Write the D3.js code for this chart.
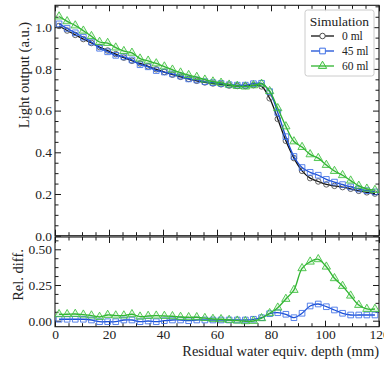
<!DOCTYPE html>
<html>
<head>
<meta charset="utf-8">
<script src="https://cdn.jsdelivr.net/npm/d3@7"></script>
<style>
  html, body { margin: 0; padding: 0; background: #fff; }
  svg { display: block; font-family: "Liberation Serif", "DejaVu Serif", serif; }
</style>
</head>
<body>
<svg id="chart" width="384" height="368"></svg>
<script>
// Sample positions along the depth axis (mm)
const depth = [1.5, 4.5, 7.5, 10.5, 13.5, 16.5, 19.5, 22.5, 25.5, 28.5,
  31.5, 34.5, 37.5, 40.5, 43.5, 46.5, 49.5, 52.5, 55.5, 58.5,
  61.5, 64.5, 67.5, 70.5, 73.5, 76.5, 79.5, 82.5, 85.5, 88.5,
  91.5, 94.5, 97.5, 100.5, 103.5, 106.5, 109.5, 112.5, 115.5, 118.5];

// Light output (a.u.) for each simulated residual water volume
const light0 = [1.006, 0.984, 0.963, 0.943, 0.924, 0.905, 0.888, 0.871, 0.854, 0.839,
  0.826, 0.812, 0.798, 0.785, 0.772, 0.762, 0.752, 0.743, 0.735, 0.730,
  0.726, 0.720, 0.718, 0.718, 0.722, 0.716, 0.659, 0.560, 0.455, 0.372,
  0.311, 0.276, 0.260, 0.246, 0.239, 0.233, 0.225, 0.215, 0.208, 0.202];
const light45 = [1.016, 0.994, 0.973, 0.952, 0.929, 0.899, 0.882, 0.865, 0.858, 0.843,
  0.820, 0.810, 0.792, 0.785, 0.776, 0.766, 0.752, 0.747, 0.739, 0.734,
  0.730, 0.724, 0.722, 0.722, 0.729, 0.731, 0.691, 0.591, 0.475, 0.380,
  0.327, 0.304, 0.290, 0.270, 0.257, 0.245, 0.234, 0.224, 0.216, 0.210];
const light60 = [1.051, 1.028, 1.008, 0.983, 0.957, 0.929, 0.924, 0.902, 0.885, 0.877,
  0.849, 0.839, 0.826, 0.811, 0.796, 0.782, 0.770, 0.761, 0.748, 0.739,
  0.733, 0.724, 0.718, 0.715, 0.721, 0.728, 0.693, 0.611, 0.524, 0.452,
  0.425, 0.390, 0.372, 0.339, 0.310, 0.290, 0.264, 0.239, 0.225, 0.219];

// Relative difference with respect to the 0 ml simulation
const rel45 = [0.010, 0.010, 0.010, 0.010, 0.005, -0.007, -0.007, -0.007, 0.005, 0.005,
  -0.007, -0.002, -0.007, 0.000, 0.005, 0.005, 0.000, 0.005, 0.005, 0.005,
  0.005, 0.005, 0.005, 0.005, 0.010, 0.021, 0.049, 0.056, 0.045, 0.021,
  0.052, 0.103, 0.117, 0.098, 0.075, 0.052, 0.040, 0.040, 0.040, 0.040];
const rel60 = [0.045, 0.045, 0.047, 0.042, 0.036, 0.026, 0.040, 0.036, 0.036, 0.045,
  0.028, 0.033, 0.035, 0.033, 0.031, 0.026, 0.024, 0.024, 0.018, 0.012,
  0.010, 0.005, 0.000, -0.004, -0.002, 0.017, 0.052, 0.091, 0.152, 0.215,
  0.367, 0.413, 0.430, 0.378, 0.297, 0.243, 0.175, 0.110, 0.082, 0.082];

// Axis ticks
const xTicks = [0, 20, 40, 60, 80, 100, 120];
const yTopTicks = [0.0, 0.2, 0.4, 0.6, 0.8, 1.0];
const yBotTicks = [0.00, 0.25, 0.50];
const legendLabels = ["0 ml", "45 ml", "60 ml"];

const svg = d3.select("#chart");

const x = d3.scaleLinear().domain([0, 120]).range([55, 379]);
const yTop = d3.scaleLinear().domain([0, 1.105]).range([235.7, 5.3]);
const yBot = d3.scaleLinear().domain([-0.042, 0.586]).range([326.7, 237]);

const frameColor = "#1a1a1a";
const textColor = "#222";
const tickFont = 13.5;
const labelFont = 14.5;

const styles = [
  { line: "#111111", mark: "#4a4a4a", fill: "none", shape: "circle" },
  { line: "#1b4fd6", mark: "#3d6fe6", fill: "none", shape: "square" },
  { line: "#2fb32f", mark: "#3cc03c", fill: "rgba(60,192,60,0.12)", shape: "triangle" }
];

function xMinor() { return d3.range(0, 121, 5).filter(v => v % 20 !== 0); }

function drawFrame(yScale, majors, minors, fmt, showXLabels) {
  const [y0, y1] = yScale.range();
  const g = svg.append("g");
  const xMaj = xTicks, xMin = xMinor();
  // x ticks (bottom and top edges, pointing inward)
  const bottomMaj = d3.axisBottom(x).tickValues(xMaj).tickSize(-6).tickSizeOuter(0)
    .tickFormat(showXLabels ? d3.format("d") : "");
  const bottomMin = d3.axisBottom(x).tickValues(xMin).tickSize(-3.5).tickSizeOuter(0).tickFormat("");
  const topMaj = d3.axisTop(x).tickValues(xMaj).tickSize(-6).tickSizeOuter(0).tickFormat("");
  const topMin = d3.axisTop(x).tickValues(xMin).tickSize(-3.5).tickSizeOuter(0).tickFormat("");
  g.append("g").attr("transform", `translate(0,${y0})`).call(bottomMaj);
  g.append("g").attr("transform", `translate(0,${y0})`).call(bottomMin);
  g.append("g").attr("transform", `translate(0,${y1})`).call(topMaj);
  g.append("g").attr("transform", `translate(0,${y1})`).call(topMin);
  // y ticks (left and right edges, pointing inward)
  const leftMaj = d3.axisLeft(yScale).tickValues(majors).tickSize(-6).tickSizeOuter(0).tickFormat(fmt);
  const leftMin = d3.axisLeft(yScale).tickValues(minors).tickSize(-3.5).tickSizeOuter(0).tickFormat("");
  const rightMaj = d3.axisRight(yScale).tickValues(majors).tickSize(-6).tickSizeOuter(0).tickFormat("");
  const rightMin = d3.axisRight(yScale).tickValues(minors).tickSize(-3.5).tickSizeOuter(0).tickFormat("");
  g.append("g").attr("transform", `translate(55,0)`).call(leftMaj);
  g.append("g").attr("transform", `translate(55,0)`).call(leftMin);
  g.append("g").attr("transform", `translate(379,0)`).call(rightMaj);
  g.append("g").attr("transform", `translate(379,0)`).call(rightMin);
  g.selectAll(".domain").remove();
  g.selectAll(".tick line").attr("stroke", frameColor).attr("stroke-width", 1);
  g.selectAll(".tick text").attr("fill", textColor).attr("font-size", tickFont)
    .attr("font-family", "Liberation Serif, DejaVu Serif, serif");
  g.append("rect").attr("x", 55).attr("y", y1).attr("width", 324).attr("height", y0 - y1)
    .attr("fill", "none").attr("stroke", frameColor).attr("stroke-width", 1.1);
  return g;
}

function markerPath(shape) {
  if (shape === "circle") return d3.symbol(d3.symbolCircle, 24)();
  if (shape === "square") return d3.symbol(d3.symbolSquare, 32)();
  return d3.symbol(d3.symbolTriangle, 30)();
}

function drawSeries(parent, yScale, values, st) {
  const pts = depth.map((d, i) => [x(d), yScale(values[i])]);
  const line = d3.line().curve(d3.curveCatmullRom.alpha(0.5));
  parent.append("path").attr("d", line(pts)).attr("fill", "none")
    .attr("stroke", st.line).attr("stroke-width", 1.3);
  parent.selectAll(null).data(pts).enter().append("path")
    .attr("d", markerPath(st.shape))
    .attr("transform", p => `translate(${p[0]},${p[1]})`)
    .attr("fill", st.fill).attr("stroke", st.mark).attr("stroke-width", 1)
    .attr("stroke-opacity", 0.85);
}

// Top panel: light output
const topMinor = d3.range(0, 1.101, 0.05).map(v => +v.toFixed(2)).filter(v => Math.round(v * 100) % 20 !== 0);
drawFrame(yTop, yTopTicks, topMinor, d3.format(".1f"), false);
const topG = svg.append("g");
drawSeries(topG, yTop, light0, styles[0]);
drawSeries(topG, yTop, light45, styles[1]);
drawSeries(topG, yTop, light60, styles[2]);

// Bottom panel: relative difference
const botMinor = [0.0625, 0.125, 0.1875, 0.3125, 0.375, 0.4375, 0.5625];
drawFrame(yBot, yBotTicks, botMinor, d3.format(".2f"), true);
const botG = svg.append("g");
drawSeries(botG, yBot, rel45, styles[1]);
drawSeries(botG, yBot, rel60, styles[2]);

// Axis labels
svg.append("text").attr("transform", "translate(24,75) rotate(-90)")
  .attr("text-anchor", "middle").attr("dominant-baseline", "central")
  .attr("font-size", labelFont).attr("fill", textColor).text("Light output (a.u.)");
svg.append("text").attr("transform", "translate(18,275) rotate(-90)")
  .attr("text-anchor", "middle").attr("dominant-baseline", "central")
  .attr("font-size", labelFont).attr("fill", textColor).text("Rel. diff.");
svg.append("text").attr("x", 379).attr("y", 351)
  .attr("text-anchor", "end").attr("dominant-baseline", "central")
  .attr("font-size", labelFont).attr("fill", textColor).text("Residual water equiv. depth (mm)");

// Legend
const lg = svg.append("g");
lg.append("rect").attr("x", 305).attr("y", 10).attr("width", 69).attr("height", 66)
  .attr("rx", 2.5).attr("fill", "rgba(255,255,255,0.85)").attr("stroke", "#cccccc").attr("stroke-width", 1);
lg.append("text").attr("x", 339.5).attr("y", 21).attr("text-anchor", "middle")
  .attr("dominant-baseline", "central").attr("font-size", 13.5).attr("fill", textColor).text("Simulation");
legendLabels.forEach((lab, i) => {
  const yy = 36 + i * 15, st = styles[i];
  lg.append("line").attr("x1", 311).attr("x2", 334).attr("y1", yy).attr("y2", yy)
    .attr("stroke", st.line).attr("stroke-width", 1.3);
  lg.append("path").attr("d", markerPath(st.shape)).attr("transform", `translate(322.5,${yy})`)
    .attr("fill", st.fill === "none" ? "#fff" : st.fill).attr("stroke", st.mark).attr("stroke-width", 1);
  lg.append("text").attr("x", 342).attr("y", yy).attr("dominant-baseline", "central")
    .attr("font-size", 11.5).attr("fill", textColor).text(lab);
});
</script>
</body>
</html>
